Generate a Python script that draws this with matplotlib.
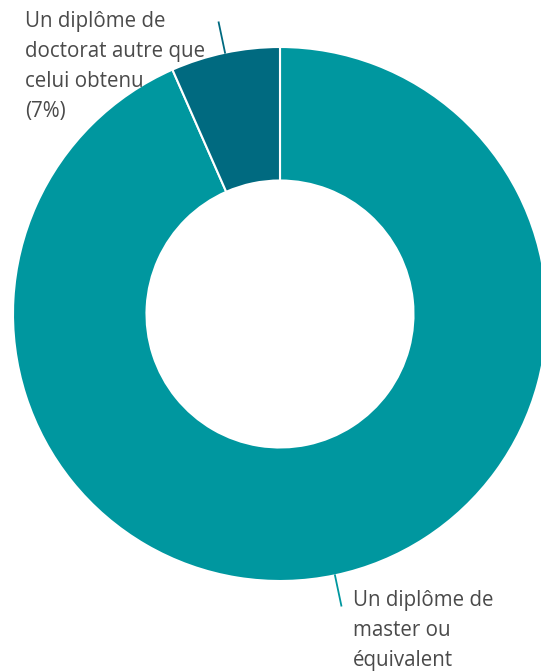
import matplotlib.pyplot as plt
import numpy as np

labels = ["Un diplôme de\nmaster ou\néquivalent", "Un diplôme de\ndoctorat autre que\ncelui obtenu\n(7%)"]
values = [93.4, 6.6]
colors = ["#00979F", "#006A80"]

W, H = 541, 671
fig = plt.figure(figsize=(W / 100, H / 100), dpi=100)
ax = fig.add_axes([0, 0, 1, 1])

cx, cy, r = 280, H - 314, 267
wedges, _ = ax.pie(values, colors=colors, startangle=90, counterclock=False,
                   center=(cx, cy), radius=r, frame=True,
                   wedgeprops=dict(width=r * 0.5, edgecolor="white", linewidth=1.5))
ax.set_xlim(0, W)
ax.set_ylim(0, H)
ax.axis("off")

# leader lines, radial from outer edge
for w, c in zip(wedges, colors):
    ang = np.deg2rad((w.theta1 + w.theta2) / 2)
    x0, y0 = cx + r * np.cos(ang), cy + r * np.sin(ang)
    x1, y1 = cx + (r + 31) * np.cos(ang), cy + (r + 31) * np.sin(ang)
    ax.plot([x0, x1], [y0, y1], color=c, lw=1.3, clip_on=False)

# labels drawn line by line so the baselines land where they should
step = 30
for lab, (x, y) in zip(labels, [(353, H - 606), (25, H - 27)]):
    for i, line in enumerate(lab.split("\n")):
        ax.text(x, y - i * step, line, fontsize=14.8, color="#4a4a4a",
                family="Open Sans", ha="left", va="baseline")

fig.savefig("out.png", dpi=100)
